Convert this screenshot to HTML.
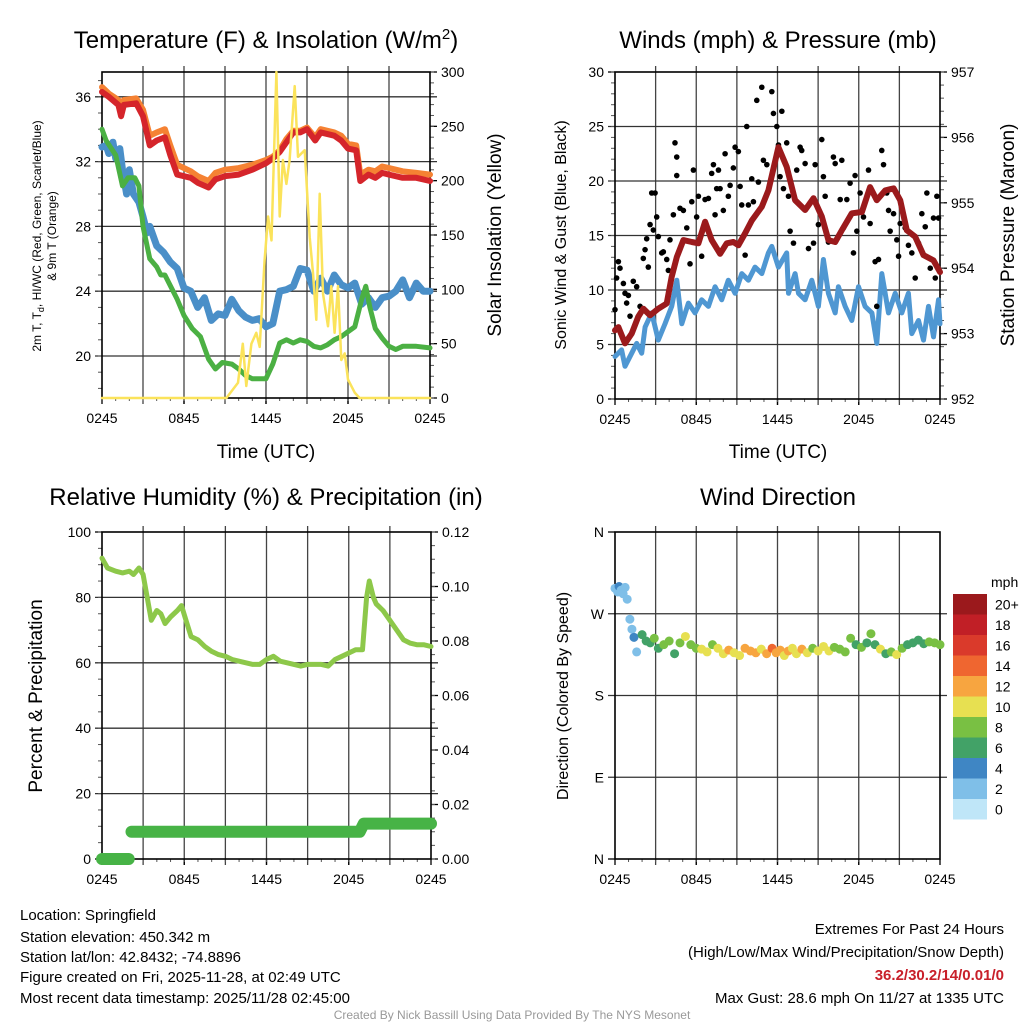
<!DOCTYPE html>
<html><head><meta charset="utf-8"><style>
html,body{margin:0;padding:0;background:#fff;}
svg{display:block;font-family:"Liberation Sans",sans-serif;}
</style></head><body>
<svg id="chart" width="1024" height="1024" viewBox="0 0 1024 1024" xmlns="http://www.w3.org/2000/svg">
<rect width="1024" height="1024" fill="#fff"/>
<text x="266" y="48" font-size="24" text-anchor="middle">Temperature (F) &amp; Insolation (W/m<tspan dy="-9" font-size="15">2</tspan><tspan dy="9">)</tspan></text>
<text x="778" y="48" font-size="24" text-anchor="middle">Winds (mph) &amp; Pressure (mb)</text>
<text x="266" y="505" font-size="24" text-anchor="middle">Relative Humidity (%) &amp; Precipitation (in)</text>
<text x="778" y="505" font-size="24" text-anchor="middle">Wind Direction</text>
<text x="266" y="458" font-size="19" text-anchor="middle">Time (UTC)</text>
<text x="778" y="458" font-size="19" text-anchor="middle">Time (UTC)</text>
<g font-size="12">
<text transform="translate(41,236) rotate(-90)" text-anchor="middle">2m T, T<tspan dy="3" font-size="9">d</tspan><tspan dy="-3">, HI/WC (Red, Green, Scarlet/Blue)</tspan></text>
<text transform="translate(56,236) rotate(-90)" text-anchor="middle">&amp; 9m T (Orange)</text>
</g>
<text transform="translate(501,235) rotate(-90)" font-size="19" text-anchor="middle">Solar Insolation (Yellow)</text>
<text transform="translate(566,235) rotate(-90)" font-size="16" text-anchor="middle">Sonic Wind &amp; Gust (Blue, Black)</text>
<text transform="translate(1014,235) rotate(-90)" font-size="19" text-anchor="middle">Station Pressure (Maroon)</text>
<text transform="translate(42,696) rotate(-90)" font-size="19" text-anchor="middle">Percent &amp; Precipitation</text>
<text transform="translate(568,696) rotate(-90)" font-size="16" text-anchor="middle">Direction (Colored By Speed)</text>
<g font-size="15">
<text x="20" y="920">Location: Springfield</text>
<text x="20" y="942">Station elevation: 450.342 m</text>
<text x="20" y="962">Station lat/lon: 42.8432; -74.8896</text>
<text x="20" y="982">Figure created on Fri, 2025-11-28, at 02:49 UTC</text>
<text x="20" y="1003">Most recent data timestamp: 2025/11/28 02:45:00</text>
</g>
<g font-size="15" text-anchor="end">
<text x="1004" y="934">Extremes For Past 24 Hours</text>
<text x="1004" y="957">(High/Low/Max Wind/Precipitation/Snow Depth)</text>
<text x="1004" y="980" fill="#c8202a" font-weight="bold">36.2/30.2/14/0.01/0</text>
<text x="1004" y="1003">Max Gust: 28.6 mph On 11/27 at 1335 UTC</text>
</g>
<text x="512" y="1019" font-size="12" fill="#999" text-anchor="middle">Created By Nick Bassill Using Data Provided By The NYS Mesonet</text>
</svg>
<script>
const xTickHours = [0, 6, 12, 18, 24];
const xTickLabels = ["0245", "0845", "1445", "2045", "0245"];
const redH = [0,0.5,1.2,1.4,1.6,2.5,3,3.5,4,4.6,5,5.5,6.5,7,7.8,8.3,9,10,11,12,12.5,13,13.5,14,14.5,15,15.6,16,17,17.5,18,18.6,18.9,19.5,20,20.5,21,22,23,24];
const redT = [36.3,36,35.5,34.8,35.5,35.6,34.8,33,33.3,33.5,32.4,31.2,31,30.7,30.4,30.9,31.1,31.2,31.5,31.9,32.2,32.6,33.2,33.8,33.8,34,33.3,33.8,33.6,33.3,32.8,32.7,30.8,31.2,31,31.3,31.2,31,31,30.8];
const orangeT = [36.6,36.2,35.8,35.3,35.8,35.9,35.2,33.6,33.8,34,33,31.8,31.4,31.1,30.8,31.3,31.5,31.6,31.8,32.1,32.3,32.7,33.4,33.9,33.9,34.1,33.5,34,33.8,33.6,33.1,33,31.2,31.5,31.4,31.7,31.6,31.4,31.3,31.2];
const greenH = [0,0.3,1,1.5,1.9,2.4,2.7,3,3.5,4,4.3,4.6,5.5,6,6.6,7.2,7.8,8.3,8.8,9.5,10,10.5,11,11.6,12,12.5,13,13.5,14,14.5,15,15.5,16,16.5,17,17.5,18,18.5,19,19.3,19.6,20,20.5,21,21.5,22,23,24];
const greenT = [34,33.3,32.4,30.5,31,31,30.5,28,26,25.5,25,25,23.5,22.5,21.7,21.2,19.8,19.2,19.6,19.5,19.2,18.8,18.6,18.6,18.6,19.5,20.8,21,20.8,21,20.9,20.6,20.5,20.7,21,21.2,21.5,21.8,23.5,24.3,23,21.7,21.1,20.6,20.4,20.6,20.6,20.5];
const blueH = [0,0.3,0.5,0.8,1,1.3,1.5,1.8,2,2.3,2.7,3,3.3,3.5,4,4.5,5,5.5,6,6.5,7,7.5,8,8.5,9,9.5,10,10.5,11,11.5,12,12.5,13,13.5,14,14.5,15,15.5,16,16.5,17,17.5,18,18.5,19,19.5,20,20.5,21,21.5,22,22.5,23,23.5,24];
const blueT = [32.9,33,32.5,33.2,32.2,32.8,31.5,30,31.5,30,29.5,28.6,27.6,28,26.8,26.4,25.8,25.4,24.2,24,23,23.6,22.2,22.6,22.5,23.5,22.8,22.4,22.2,22.3,21.8,22,24,24.1,24.3,25.4,25.3,24,24.8,24,25,24.4,24.2,24.5,23.2,23.6,23,23.6,23.7,24,24.7,23.6,24.5,24,24];
const solarH = [0,9.1,9.95,10.3,10.56,10.93,11.29,11.54,11.9,12.15,12.4,12.76,13.0,13.24,13.49,13.73,14.1,14.34,14.83,15.2,15.44,15.68,15.93,16.17,16.54,16.78,17.02,17.27,17.51,17.76,18.0,18.49,18.85,19.2,24];
const solarW = [0,0,14,50,11,50,60,47,127,167,145,300,167,219,197,219,287,222,228,148,115,72,188,96,66,103,60,103,35,41,17,5,0,0,0];
const windH = [0,0.49,0.74,1.23,1.6,1.97,2.22,2.71,3.2,3.69,4.19,4.56,4.93,5.42,5.91,6.4,6.9,7.39,7.88,8.37,8.87,9.36,9.85,10.34,10.84,11.33,11.58,12.07,12.68,12.81,13.3,13.55,14.04,14.53,15.02,15.39,15.76,16.26,16.5,17,17.49,17.98,18.47,18.97,19.33,19.7,20.2,20.69,21.18,21.67,21.92,22.41,22.78,23.15,23.52,23.89,24];
const windMph = [3.9,4.5,3,4.2,5.1,4.2,6.6,7.9,5.4,6.9,8.5,10.9,6.9,8.8,7.9,9.1,8.5,10.3,9.1,10.9,9.7,11.5,10.9,12.1,11.5,13.4,14,12.1,13.4,9.7,11.5,9.7,9.1,10.9,8.5,12.8,9.7,7.9,10.3,8.5,7.2,10.3,8.5,7.9,5.1,11.5,7.9,9.7,7.9,9.7,6,7.2,5.4,8.5,5.7,9.1,6.9];
const gustH = [0,0.12,0.25,0.37,0.62,0.74,0.86,0.99,1.11,1.35,1.6,1.85,2.09,2.22,2.34,2.46,2.59,2.71,2.83,2.96,3.08,3.2,3.45,3.57,3.82,3.94,4.06,4.31,4.43,4.56,4.56,4.8,5.05,5.3,5.54,5.67,5.79,6.03,6.16,6.4,6.65,6.9,7.14,7.27,7.39,7.51,7.64,7.76,8.0,8.13,8.37,8.5,8.74,8.87,9.11,9.24,9.36,9.61,9.73,9.85,10.1,10.22,10.47,10.59,10.84,10.96,11.21,11.58,11.7,11.95,12.07,12.19,12.32,12.44,12.68,12.81,12.93,13.18,13.42,13.67,13.79,14.04,14.29,14.66,14.78,15.02,15.27,15.39,15.52,15.76,16.13,16.26,16.63,16.75,16.87,17.12,17.36,17.61,17.73,17.86,18.1,18.35,18.72,18.84,19.21,19.33,19.46,19.7,19.83,20.07,20.2,20.32,20.57,20.81,20.94,21.06,21.43,21.67,21.92,22.17,22.41,22.66,22.91,23.03,23.28,23.52,23.65,23.77,23.89];
const gustMph = [8.2,11.1,12.6,12,10.6,9.7,8.8,9.5,7.6,10.8,10.3,8.5,12.9,13.7,14.7,12.1,16,18.9,15.5,18.9,16.7,14.9,13.4,13.5,12.8,11.8,14.6,16.9,23.5,22.2,20.5,17.5,17.3,15.7,12.4,18.1,21,16.7,18.6,13.1,18.3,18.4,20.7,21.5,16.9,19.3,21,19.3,17.3,22.5,18.6,19.6,21.2,23.1,22.7,19.5,17.8,13.2,25,17.8,20.2,18.1,27.4,19.9,28.6,21.9,21.5,28.2,26.2,25,23.3,20.4,26.4,19.3,23.5,18.6,15.4,14.3,21,23.1,22.8,21.6,13.8,14.3,21.5,16,23.8,20.4,18.6,14.4,22.2,21.6,18.3,21.9,15.7,18.3,19.8,13.4,20.5,15.4,18.9,16.7,21,16.1,12.6,8.5,12.8,22.8,21.5,18.9,17.3,15.4,17,14.6,13.1,16.1,15.7,14.1,13.4,11.1,14.3,17,15.8,18.9,12,16.6,11.1,18.6,16.6];
const presH = [0,0.25,0.74,1.23,1.72,2.09,2.59,3.2,3.82,4.19,4.56,5.05,5.67,6.16,6.65,7.14,7.76,8.25,8.74,9.11,9.6,10.1,10.84,11.33,12.07,12.68,13.3,14.04,14.66,15.27,15.76,16.26,16.75,17.49,18.23,18.84,19.33,19.95,20.57,21.06,21.55,22.17,22.78,23.52,24];
const presMb = [953.05,953.1,952.85,953.0,953.26,953.38,953.28,953.38,953.46,953.87,954.17,954.43,954.4,954.38,954.71,954.43,954.22,954.38,954.4,954.35,954.53,954.73,954.94,955.19,955.85,955.55,955.04,954.89,955.07,954.79,954.43,954.4,954.58,954.84,954.86,955.24,955.04,955.19,955.22,955.04,954.58,954.48,954.2,954.12,953.94];
const rhH = [0,0.4,1,1.5,2,2.3,2.7,3,3.3,3.6,4,4.3,4.6,5,5.5,5.8,6.2,6.5,7,7.5,8,8.5,9,9.5,10,10.5,11,11.5,12,12.5,13,13.5,14,14.5,15,15.5,16,16.5,17,17.5,18,18.5,19,19.3,19.5,19.8,20,20.5,21,21.5,22,22.5,23,23.5,24];
const rhPct = [92,89,88,87.5,88,87,89,87,80,73,76,75,72,74,76,77.5,72,68,67,65,63.5,62.5,62,61,60.5,60,59.5,59.5,61,62,60.5,60,59.5,59,59.5,59.5,59.5,59,61,62,63,64,64,80,85,80,78,76,73,70,67,66,65.5,65.5,65];
const precipH = [2.15,18.8,19.1,24];
const precipIn = [0.01,0.01,0.013,0.013];
const precipFirstH = [0,1.95];
const precipFirstIn = [0,0];
const dirH = [0,0.2,0.3,0.45,0.6,0.75,0.9,1.1,1.25,1.4,1.6,2.0,2.3,2.6,2.9,3.2,3.6,4.0,4.4,4.8,5.2,5.6,6.0,6.4,6.8,7.2,7.6,8.0,8.4,8.8,9.2,9.6,10.0,10.4,10.8,11.2,11.6,11.9,12.2,12.5,12.8,13.1,13.4,13.8,14.2,14.6,15.0,15.4,15.8,16.2,16.6,17.0,17.4,17.8,18.2,18.6,18.9,19.2,19.6,20.0,20.4,20.8,21.2,21.6,22.0,22.4,22.8,23.2,23.6,24];
const dirDeg = [298,294,300,296,292,299,286,264,253,244,228,247,240,238,243,232,236,240,226,238,245,236,232,231,228,236,232,226,230,227,224,232,229,227,231,226,232,227,230,224,229,232,226,231,227,232,229,234,229,233,231,228,243,236,233,238,248,236,231,226,228,225,232,236,238,241,237,239,238,236];
const dirMph = [3.5,3.6,4.2,3.8,3.4,3.9,2.4,2.6,3.9,4.2,3.8,6.5,7.2,6.6,8.4,6.4,9.5,8.2,7.6,9.2,10.1,8.6,9.8,10.4,11.2,9.6,10.3,11.6,12.2,11.4,10.6,12.4,13.1,12.2,11.1,12.6,14.5,12.2,13.3,10.5,12.4,11.2,10.2,12.6,10.4,9.6,11.5,10.3,10.5,9.7,8.4,9.6,8.1,7.5,8.6,7.4,8.3,7.2,11.3,6.6,9.8,10.2,8.6,7.2,6.4,7.8,6.7,8.2,8.5,8.1];
const cbLabels = ["0","2","4","6","8","10","12","14","16","18","20+"];
const cbColors = ["#bfe6f8","#7fbfe8","#3f86c4","#42a267","#79c043","#e7e051","#f7a540","#ef6630","#da3a2b","#c11f26","#9b191c"];

const NS = "http://www.w3.org/2000/svg";
const svg = document.getElementById("chart");
function mk(tag, attrs, parent) {
  const e = document.createElementNS(NS, tag);
  for (const k in attrs) e.setAttribute(k, attrs[k]);
  (parent || svg).appendChild(e);
  return e;
}
function lin(d0, d1, r0, r1) { return v => r0 + (v - d0) * (r1 - r0) / (d1 - d0); }
function pathD(xs, ys, sx, sy) {
  return xs.map((h, i) => (i ? "L" : "M") + sx(h).toFixed(1) + "," + sy(ys[i]).toFixed(1)).join("");
}

function panelFrame(L, R, T, B, name, yTicksL, syL, labL, minorL, yTicksR, syR, labR, minorR) {
  const g = mk("g", {});
  
  
  const sx = lin(0, 24, L, R);
  for (let h = 3; h < 24; h += 3) {
    const gl = mk("line", {x1: sx(h), x2: sx(h), y1: T - 6, y2: B + 6, stroke: "#444", "stroke-width": 1.3}, g);
    
    
  }
  yTicksL.forEach((v, i) => {
    const y = syL(v);
    if (y > T + 1 && y < B - 1) {
      const gl = mk("line", {x1: L - 7, x2: R + 7, y1: y, y2: y, stroke: "#333", "stroke-width": 1.3}, g);
      
      
    } else {
      mk("line", {x1: L - 7, x2: L, y1: y, y2: y, stroke: "#000", "stroke-width": 1.3}, g);
    }
    const t = mk("text", {x: L - 11, y: y + 5, "font-size": 14, "text-anchor": "end"}, g);
    t.textContent = labL[i];
    
    
  });
  minorL.forEach(v => mk("line", {x1: L - 4, x2: L, y1: syL(v), y2: syL(v), stroke: "#555", "stroke-width": 1}, g));
  if (yTicksR) {
    yTicksR.forEach((v, i) => {
      const y = syR(v);
      mk("line", {x1: R, x2: R + 7, y1: y, y2: y, stroke: "#000", "stroke-width": 1.3}, g);
      const t = mk("text", {x: R + 11, y: y + 5, "font-size": 14}, g);
      t.textContent = labR[i];
      
      
    });
    minorR.forEach(v => mk("line", {x1: R, x2: R + 4, y1: syR(v), y2: syR(v), stroke: "#555", "stroke-width": 1}, g));
  }
  xTickHours.forEach((h, i) => {
    mk("line", {x1: sx(h), x2: sx(h), y1: B, y2: B + 6, stroke: "#000", "stroke-width": 1.3}, g);
    const t = mk("text", {x: sx(h), y: B + 25, "font-size": 14, "text-anchor": "middle"}, g);
    t.textContent = xTickLabels[i];
    
    
  });
  for (let h = 1; h < 24; h++) mk("line", {x1: sx(h), x2: sx(h), y1: B, y2: B + 3, stroke: "#555", "stroke-width": 1}, g);
  mk("rect", {x: L, y: T, width: R - L, height: B - T, fill: "none", stroke: "#000", "stroke-width": 1.6}, g);
  return sx;
}
function range(a, b, s) { const r = []; for (let v = a; v <= b + 1e-9; v += s) r.push(+v.toFixed(4)); return r; }
function drawLine(xs, ys, sx, sy, color, w, name) {
  const p = mk("path", {d: pathD(xs, ys, sx, sy), fill: "none", stroke: color, "stroke-width": w, "stroke-linejoin": "round", "stroke-linecap": "round"});
  
  
  return p;
}

// Panel 1: temperature
{
  const L = 102, R = 430, T = 72, B = 398;
  const syT = lin(20, 36, 356, 96.8);
  const syW = lin(0, 300, B, T);
  const t = [36, 32, 28, 24, 20];
  const sx = panelFrame(L, R, T, B, "temperature", t, syT, t.map(String), range(18, 37, 1), range(0, 300, 50), syW, range(0, 300, 50).map(String), range(0, 300, 10));
  drawLine(blueH, blueT, sx, syT, "#4a8fc8", 7, "heat-index-wind-chill-line");
  drawLine(greenH, greenT, sx, syT, "#4bb043", 5, "dewpoint-line");
  drawLine(redH, orangeT, sx, syT, "#f58233", 6, "9m-temperature-line");
  drawLine(redH, redT, sx, syT, "#d5252b", 6, "2m-temperature-line");
  drawLine(solarH, solarW, sx, syW, "#fbe35b", 2.5, "solar-insolation-line");
}
// Panel 2: winds
{
  const L = 615, R = 940, T = 72, B = 399;
  const syW = lin(0, 30, B, T);
  const syP = lin(952, 957, B, T);
  const w = [0, 5, 10, 15, 20, 25, 30];
  const p = [952, 953, 954, 955, 956, 957];
  const sx = panelFrame(L, R, T, B, "winds", w, syW, w.map(String), range(0, 30, 1), p, syP, p.map(String), range(952, 957, 0.2));
  drawLine(windH, windMph, sx, syW, "#4f97d2", 5, "sonic-wind-line");
  const g = mk("g", {});
  
  
  gustH.forEach((h, i) => {
    const c = mk("circle", {cx: sx(h), cy: syW(gustMph[i]), r: 2.8, fill: "#000"}, g);
    
    
  });
  drawLine(presH, presMb, sx, syP, "#9b1a1c", 6, "station-pressure-line");
}
// Panel 3: humidity
{
  const L = 102, R = 431, T = 532, B = 859;
  const syR = lin(0, 100, B, T);
  const syI = lin(0, 0.12, B, T);
  const r = [0, 20, 40, 60, 80, 100];
  const pi = [0, 0.02, 0.04, 0.06, 0.08, 0.10, 0.12];
  const sx = panelFrame(L, R, T, B, "humidity", r, syR, r.map(String), range(0, 100, 5), pi, syI, pi.map(v => v.toFixed(2)), range(0, 0.12, 0.005));
  drawLine(rhH, rhPct, sx, syR, "#8dc84a", 5, "relative-humidity-line");
  drawLine(precipFirstH, precipFirstIn, sx, syI, "#47b346", 12, "precipitation-line-start");
  drawLine(precipH, precipIn, sx, syI, "#47b346", 12, "precipitation-line");
}
// Panel 4: wind direction
{
  const L = 615, R = 940, T = 532, B = 859;
  const syD = lin(0, 360, B, T);
  const d = [360, 270, 180, 90, 0];
  const sx = panelFrame(L, R, T, B, "wind-direction", d, syD, ["N", "W", "S", "E", "N"], [], null);
  const g = mk("g", {});
  
  
  dirH.forEach((h, i) => {
    const bin = Math.min(10, Math.floor(dirMph[i] / 2));
    const c = mk("circle", {cx: sx(h), cy: syD(dirDeg[i]), r: 4.5, fill: cbColors[bin]}, g);
    
    
  });
  const cb = mk("g", {});
  
  
  const t0 = mk("text", {x: 991, y: 587, "font-size": 14, "text-anchor": "start"}, cb);
  t0.textContent = "mph";
  const bh = 20.5, top = 594;
  for (let i = 10; i >= 0; i--) {
    const y = top + (10 - i) * bh;
    const rct = mk("rect", {x: 953, y: y, width: 34, height: bh, fill: cbColors[i]}, cb);
    
    
    const tx = mk("text", {x: 995, y: y + bh / 2 + 5, "font-size": 14}, cb);
    tx.textContent = cbLabels[i];
    
    
  }
}
</script>
</body></html>
